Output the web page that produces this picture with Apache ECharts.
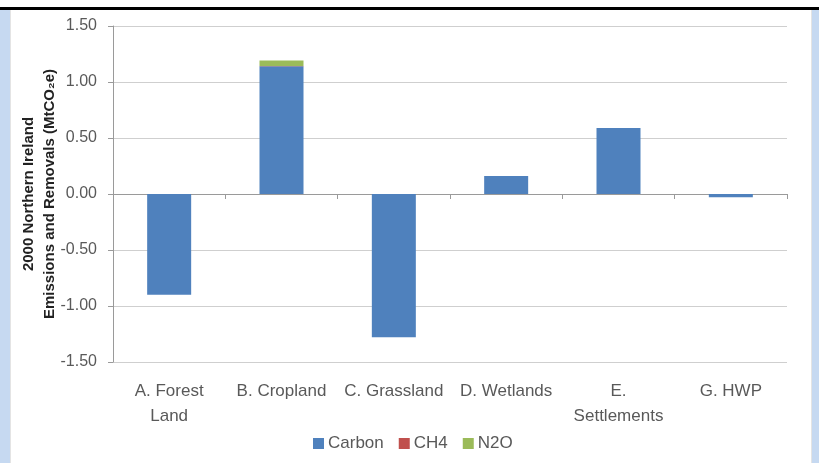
<!DOCTYPE html>
<html>
<head>
<meta charset="utf-8">
<script src="https://cdn.jsdelivr.net/npm/echarts@6/dist/echarts.min.js"></script>
<style>
  body { margin: 0; background: #fff; }
  #frame {
    position: absolute; left: 0; top: 7px; width: 819px; height: 453px;
    border-top: 3px solid #000; background: #c6d9f1;
  }
  #panel {
    position: absolute; left: 10px; top: 0; width: 800px; height: 453px;
    background: #fff; border-left: 1px solid #e4e4e4; border-right: 1px solid #e4e4e4;
  }
  #chart { position: absolute; left: 0; top: 0; width: 819px; height: 463px; }
</style>
</head>
<body>
<div id="frame"><div id="panel"></div></div>
<div id="chart"></div>
<script>
  // 类别和数据
  const categories = ["A. Forest\nLand", "B. Cropland", "C. Grassland", "D. Wetlands", "E.\nSettlements", "G. HWP"];
  const carbon = [-0.90, 1.14, -1.28, 0.16, 0.59, -0.03];
  const ch4 = [0, 0.003, 0, 0, 0, 0];
  const n2o = [0, 0.05, 0, 0, 0, 0];
  const yTicks = [-1.5, 1.5, 0.5]; // min, max, interval

  let myChart = echarts.init(document.getElementById("chart"));
  const labelColor = "#595959";
  const font = "Liberation Sans";

  let option = {
    animation: false,
    textStyle: { fontFamily: font },
    grid: { left: 113, right: 32, top: 26, bottom: 101 },
    legend: {
      data: ["Carbon", "CH4", "N2O"],
      bottom: 6,
      left: 308,
      itemWidth: 11,
      itemHeight: 11,
      itemGap: 15,
      icon: "rect",
      textStyle: { color: labelColor, fontSize: 17, fontFamily: font, padding: [0, 0, 0, -1] }
    },
    xAxis: [
      {
        type: "category",
        data: categories,
        axisLine: { show: false, onZero: false },
        axisTick: { show: false },
        axisLabel: { color: labelColor, fontSize: 17, lineHeight: 25, margin: 17, interval: 0 }
      },
      {
        type: "category",
        data: categories,
        position: "bottom",
        axisLine: { show: true, onZero: true, lineStyle: { color: "#9a9a9a" } },
        axisTick: { show: true, length: 5, lineStyle: { color: "#9a9a9a" } },
        axisLabel: { show: false }
      }
    ],
    yAxis: {
      type: "value",
      min: yTicks[0],
      max: yTicks[1],
      interval: yTicks[2],
      name: "2000 Northern Ireland\nEmissions and Removals (MtCO\u2082e)",
      nameLocation: "middle",
      nameGap: 53,
      nameMoveOverlap: false,
      nameTextStyle: { color: "#222", fontSize: 15, fontWeight: "bold", lineHeight: 21 },
      axisLine: { show: true, lineStyle: { color: "#9a9a9a" } },
      axisTick: { show: true, length: 5, lineStyle: { color: "#9a9a9a" } },
      axisLabel: {
        color: labelColor, fontSize: 16, margin: 16,
        formatter: v => v.toFixed(2)
      },
      splitLine: { lineStyle: { color: "#cfcfcf" } }
    },
    series: [
      { name: "Carbon", type: "bar", stack: "total", barWidth: 44, itemStyle: { color: "#4f81bd" }, data: carbon },
      { name: "CH4", type: "bar", stack: "total", barWidth: 44, itemStyle: { color: "#c0504d" }, data: ch4 },
      { name: "N2O", type: "bar", stack: "total", barWidth: 44, itemStyle: { color: "#9bbb59" }, data: n2o }
    ]
  };

  myChart.setOption(option);
</script>
</body>
</html>
